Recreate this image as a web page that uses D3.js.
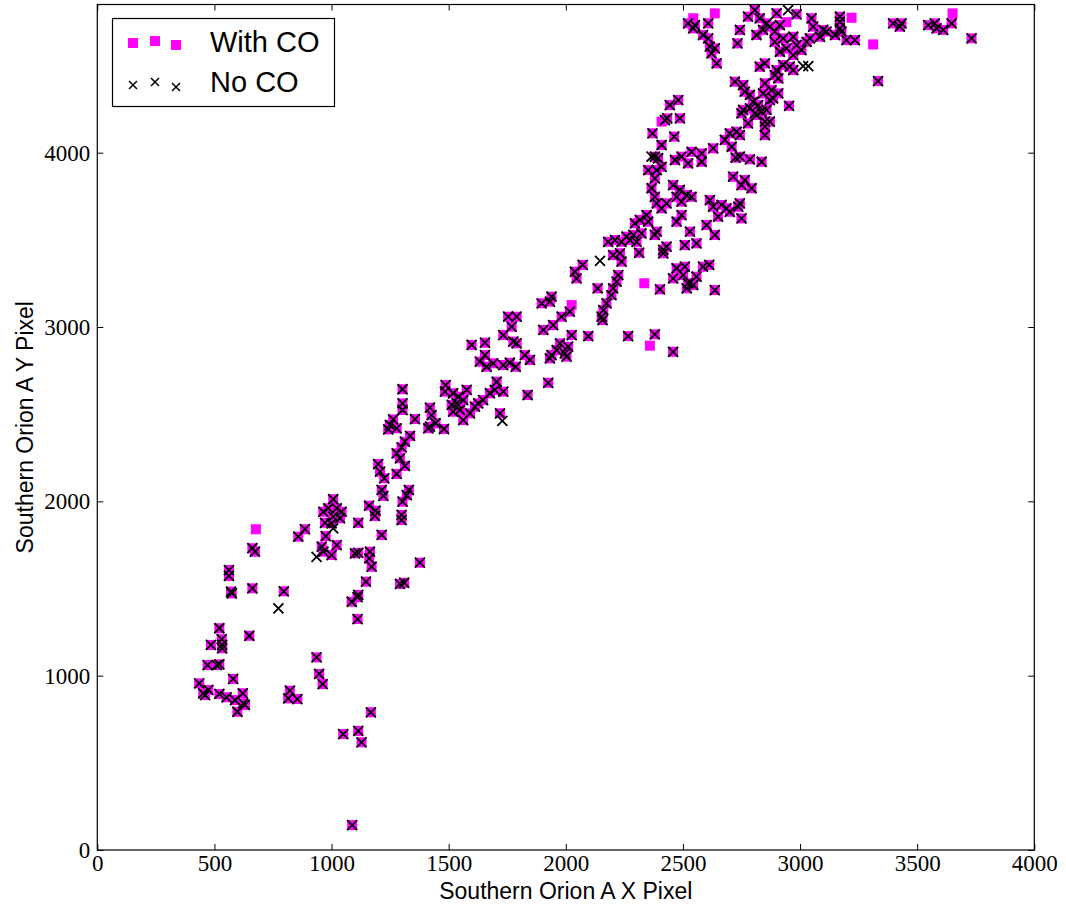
<!DOCTYPE html>
<html><head><meta charset="utf-8">
<script src="https://cdn.jsdelivr.net/npm/d3@7"></script>
<style>
html,body{margin:0;padding:0;background:#fff;}
svg{display:block;}
</style></head>
<body>
<svg id="chart" width="1066" height="912"></svg>
<script>
// Points present in both series (With CO and No CO)
const bothPts = [
[662,1731],[673,1711],[562,1606],[562,1572],[571,1482],[574,1472],[662,1501],[796,1484],
[1086,1424],[1111,1450],[1114,1463],[1111,1325],[521,1272],[649,1229],[485,1176],[531,1209],
[533,1176],[533,1157],[936,1105],[471,1061],[510,1061],[521,1065],[947,1010],[962,952],
[580,981],[435,956],[452,899],[474,918],[460,889],[521,895],[552,876],[588,860],[621,899],
[623,841],[598,793],[630,832],[822,914],[815,870],[854,866],[1168,790],[1050,665],[1114,683],
[1128,618],[1088,143],
[1633,2801],[1662,2772],[1690,2792],[1733,2782],[1761,2795],[1786,2772],[1847,2811],[1925,2680],
[1303,2643],[1487,2667],[1484,2629],[1519,2620],[1541,2600],[1577,2639],[1562,2581],[1534,2562],
[1513,2553],[1519,2514],[1548,2524],[1562,2466],[1591,2505],[1612,2543],[1626,2562],[1647,2581],
[1676,2620],[1705,2686],[1733,2629],[1697,2639],[1837,2610],[1719,2505],[1303,2562],[1303,2524],
[1420,2537],[1427,2495],[1444,2448],[1420,2428],[1413,2419],[1480,2415],[1356,2472],[1263,2470],
[1249,2438],[1242,2413],[1278,2419],[1335,2375],[1313,2342],[1299,2310],[1278,2275],[1292,2247],
[1313,2203],[1278,2157],[1199,2214],[1207,2170],[1225,2132],[1214,2065],[1221,2031],[1330,2065],
[1321,2036],[1303,1998],[1160,1975],[1188,1946],[1185,1916],[1299,1922],[1299,1893],[1007,2012],
[965,1940],[986,1960],[1022,1960],[1043,1940],[1007,1912],[1036,1903],[972,1877],[1000,1874],
[1114,1877],[886,1840],[858,1797],[975,1801],[1214,1807],[958,1740],[1022,1749],[965,1711],
[1000,1692],[1100,1702],[1114,1705],[1164,1711],[1161,1673],[1171,1625],[1377,1648],[1147,1539],
[1292,1526],[1310,1533],
[2181,3489],[2210,3499],[2238,3489],[2259,3518],[2274,3499],[2288,3528],[2302,3489],[2323,3537],
[2380,3528],[2388,3547],[2430,3461],[2416,3442],[2508,3470],[2558,3480],[2530,3547],[2636,3528],
[2202,3413],[2231,3423],[2238,3375],[2313,3426],[2416,3423],[2072,3356],[2039,3317],[2046,3279],
[2224,3298],[2217,3260],[2202,3222],[2195,3183],[2174,3136],[2160,3097],[2153,3059],[2157,3040],
[2136,3222],[2402,3216],[2473,3337],[2508,3346],[2458,3279],[2501,3298],[2522,3251],[2516,3222],
[2544,3241],[2558,3289],[2586,3346],[2612,3356],[2636,3212],[1897,3136],[1939,3174],[1932,3145],
[2017,3088],[1982,3059],[1946,3011],[1904,2983],[1754,3059],[1790,3059],[1769,3002],[1733,2954],
[1776,2916],[1790,2906],[1655,2910],[1598,2897],[2025,2954],[2096,2948],[2266,2948],[2380,2958],
[2458,2858],[1975,2906],[2010,2887],[1996,2849],[1961,2868],[1939,2839],[1932,2820],[2003,2830],
[1655,2839],[1825,2839],
[2444,4273],[2480,4302],[2423,4187],[2433,4197],[2487,4197],[2370,4111],[2463,4092],[2409,4044],
[2380,3977],[2394,3968],[2352,3900],[2388,3900],[2409,3919],[2380,3853],[2366,3796],[2380,3747],
[2388,3709],[2430,3709],[2409,3681],[2466,3958],[2494,3977],[2537,4005],[2580,3996],[2522,3939],
[2580,3948],[2629,4025],[2679,4073],[2700,4111],[2729,4120],[2708,4034],[2725,3971],[2714,3862],
[2764,3843],[2750,3814],[2793,3796],[2458,3814],[2487,3786],[2516,3757],[2537,3747],[2473,3747],
[2494,3719],[2615,3728],[2629,3690],[2665,3700],[2686,3681],[2736,3690],[2743,3709],[2700,3661],
[2650,3633],[2750,3623],[2345,3642],[2316,3614],[2295,3595],[2352,3604],[2473,3604],[2494,3642],
[2601,3585],
[2522,4742],[2551,4732],[2544,4713],[2608,4742],[2586,4675],[2608,4656],[2615,4608],[2636,4598],
[2622,4570],[2644,4512],[2743,4704],[2733,4627],[2807,4818],[2778,4780],[2828,4771],[2857,4742],
[2900,4799],[2985,4794],[2814,4675],[2842,4704],[2871,4723],[2892,4694],[2914,4732],[2892,4636],
[2928,4656],[2971,4665],[2985,4617],[3042,4656],[3049,4771],[3056,4723],[2914,4579],[2942,4598],
[2971,4560],[3006,4589],[3028,4636],[2722,4407],
[2828,4493],[2850,4512],[2900,4474],[2928,4503],[2956,4493],[2971,4474],[2907,4426],[2757,4388],
[2764,4350],[2786,4331],[2850,4398],[2842,4340],[2878,4359],[2907,4340],[2885,4312],[2800,4292],
[2821,4273],[2786,4254],[2757,4245],[2750,4226],[2807,4226],[2836,4235],[2857,4245],[2953,4269],
[2778,4168],[2850,4178],[2871,4178],[2850,4149],[2850,4101],[2743,4101],[2786,3962],[2836,3948],
[2743,3977],[2892,4445],[2871,4302],[2814,4216],
[3170,4780],[3170,4751],[3099,4704],[3113,4694],[3149,4675],[3170,4713],[3177,4694],[3198,4646],
[3234,4646],[3085,4665],[3333,4411],[3397,4742],[3433,4742],[3426,4723],[3547,4732],[3583,4713],
[3611,4704],[3647,4742],[3575,4742],[3732,4656]
];
// Points only in "With CO"
const coOnlyPts = [
[677,1840],[2335,3251],[2025,3126],[2359,2893],[2409,4178],[2636,4799],[2544,4771],
[2942,4749],[3220,4774],[3312,4621],[3651,4799]
];
// Points only in "No CO"
const noCoOnlyPts = [
[773,1386],[1729,2462],[1007,1845],[936,1682],[2146,3380],[2366,3977],[2949,4818],
[3013,4497],[3035,4497]
];
const withCO = bothPts.concat(coOnlyPts);
const noCO = bothPts.concat(noCoOnlyPts);

const xTicks = [0,500,1000,1500,2000,2500,3000,3500,4000];
const yTicks = [0,1000,2000,3000,4000];
const xDomain = [0,4000];
const yDomain = [0,4850];
const seriesNames = ["With CO","No CO"];
const xLabel = "Southern Orion A X Pixel";
const yLabel = "Southern Orion A Y Pixel";

const svg = d3.select("#chart");
const L = 97.3, R = 1034.3, T = 4.5, B = 850;
const x = d3.scaleLinear().domain(xDomain).range([L, R]);
const y = d3.scaleLinear().domain(yDomain).range([B, T]);

const sq = 10, xs = 5;
const xPath = (cx, cy, h) => `M${cx-h},${cy-h}L${cx+h},${cy+h}M${cx-h},${cy+h}L${cx+h},${cy-h}`;

const plot = svg.append("g");
plot.selectAll("rect.co").data(withCO).enter().append("rect")
  .attr("class","co")
  .attr("x", d => x(d[0]) - sq/2).attr("y", d => y(d[1]) - sq/2)
  .attr("width", sq).attr("height", sq)
  .attr("fill", "#ff00ff");
plot.selectAll("path.noco").data(noCO).enter().append("path")
  .attr("class","noco")
  .attr("d", d => xPath(x(d[0]), y(d[1]), xs))
  .attr("stroke", "#000").attr("stroke-width", 1.8).attr("fill","none");

// axes with inward ticks
const tickFmt = d3.format("d");
const axB = d3.axisBottom(x).tickValues(xTicks).tickSizeInner(-6).tickSizeOuter(0).tickPadding(5).tickFormat(tickFmt);
const axT = d3.axisTop(x).tickValues(xTicks).tickSizeInner(-6).tickSizeOuter(0).tickFormat("");
const axL = d3.axisLeft(y).tickValues(yTicks).tickSizeInner(-6).tickSizeOuter(0).tickPadding(7).tickFormat(tickFmt);
const axR = d3.axisRight(y).tickValues(yTicks).tickSizeInner(-6).tickSizeOuter(0).tickFormat("");

function styleAxis(g){
  g.select(".domain").remove();
  g.selectAll(".tick line").attr("stroke","#000").attr("stroke-width",1);
  g.selectAll(".tick text").attr("fill","#000")
    .style("font-family","'Liberation Serif', 'DejaVu Serif', serif").style("font-size","23px");
}
svg.append("g").attr("transform",`translate(0,${B})`).call(axB).call(styleAxis);
svg.append("g").attr("transform",`translate(0,${T})`).call(axT).call(styleAxis);
svg.append("g").attr("transform",`translate(${L},0)`).call(axL).call(styleAxis);
svg.append("g").attr("transform",`translate(${R},0)`).call(axR).call(styleAxis);

svg.append("rect").attr("x",L).attr("y",T).attr("width",R-L).attr("height",B-T)
  .attr("fill","none").attr("stroke","#000").attr("stroke-width",1.2);

// axis labels
svg.append("text").attr("x",(L+R)/2).attr("y",899).attr("text-anchor","middle")
  .style("font-family","'Liberation Sans', Arial, sans-serif").style("font-size","23px").text(xLabel);
svg.append("text").attr("transform",`translate(33,${(T+B)/2}) rotate(-90)`).attr("text-anchor","middle")
  .style("font-family","'Liberation Sans', Arial, sans-serif").style("font-size","23px").text(yLabel);

// legend
const lg = svg.append("g");
lg.append("rect").attr("x",112.5).attr("y",18.5).attr("width",222).attr("height",88)
  .attr("fill","#fff").attr("stroke","#000").attr("stroke-width",1.2);
const lgX = [133,155,176];
const lgYco = [43,41,45];
const lgYno = [85,82,87];
lgX.forEach((lx,i)=>{
  lg.append("rect").attr("x",lx-sq/2).attr("y",lgYco[i]-sq/2).attr("width",sq).attr("height",sq).attr("fill","#ff00ff");
  lg.append("path").attr("d",xPath(lx,lgYno[i],4)).attr("stroke","#000").attr("stroke-width",1.5).attr("fill","none");
});
lg.append("text").attr("x",210).attr("y",52).style("font-family","'Liberation Sans', Arial, sans-serif")
  .style("font-size","29px").text(seriesNames[0]);
lg.append("text").attr("x",210).attr("y",92).style("font-family","'Liberation Sans', Arial, sans-serif")
  .style("font-size","29px").text(seriesNames[1]);
</script>
</body></html>
